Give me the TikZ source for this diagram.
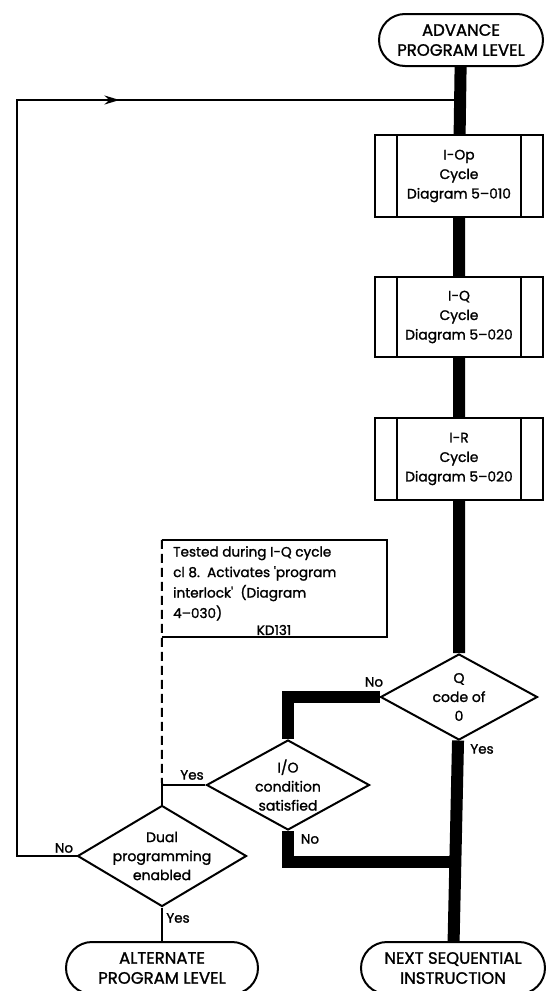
\documentclass[tikz,border=0pt]{standalone}
\usepackage{fontspec}
\setmainfont{Poppins}[FakeBold=1.4]
\usetikzlibrary{arrows.meta,shapes.geometric,decorations.markings,backgrounds}

\tikzset{
  base/.style={draw=black,line width=2pt,fill=white,align=center,inner sep=0pt},
  term/.style={base,rounded corners=26pt,minimum height=52pt,font=\fontsize{16.5}{20}\selectfont},
  cyclebox/.style={base,minimum width=168pt,minimum height=82pt,font=\fontsize{13.8}{19.5}\selectfont},
  decision/.style={diamond,draw=black,line width=2pt,fill=white,inner sep=0pt},
  dtext/.style={align=center,inner sep=0pt,font=\fontsize{14}{19}\selectfont},
  yn/.style={inner sep=0pt,font=\fontsize{13.5}{15}\selectfont},
  notetext/.style={align=left,inner sep=0pt,font=\fontsize{13.6}{20.5}\selectfont},
  line/.style={draw=black,line width=2pt},
  flow/.style={draw=black,line width=12pt},
  midarrow/.style={decoration={markings,mark=at position #1 with {\arrow{Stealth[length=15pt,width=9pt]}}},postaction={decorate}},
}

\begin{document}
\begin{tikzpicture}[x=1pt,y=-1pt]
  \useasboundingbox (0,0) rectangle (546,991);

  % terminals
  \node[term,minimum width=164pt] (adv) at (461,40) {ADVANCE\\PROGRAM LEVEL};
  \node[term,minimum width=192pt] (alt) at (162,968) {ALTERNATE\\PROGRAM LEVEL};
  \node[term,minimum width=184pt] (next) at (453,968) {NEXT SEQUENTIAL\\INSTRUCTION};

  % cycle boxes, double sides drawn after
  \node[cyclebox] (iop) at (459,176) {I-Op\\Cycle\\Diagram 5--010};
  \node[cyclebox,minimum height=80pt] (iq) at (459,317) {I-Q\\Cycle\\Diagram 5--020};
  \node[cyclebox] (ir) at (459,459) {I-R\\Cycle\\Diagram 5--020};
  \foreach \b in {iop,iq,ir} {
    \draw[line] ([xshift=23pt]\b.north west) -- ([xshift=23pt]\b.south west);
    \draw[line] ([xshift=-23pt]\b.north east) -- ([xshift=-23pt]\b.south east);
  }

  % decisions
  \node[decision,minimum width=157pt,minimum height=86pt] (q) at (459,697) {};
  \node[dtext] (qtxt) at (q) {Q\\code of\\0};
  \node[decision,minimum width=163pt,minimum height=90pt] (io) at (288,785) {};
  \node[dtext] (iotxt) at (io) {I/O\\condition\\satisfied};
  \node[decision,minimum width=169pt,minimum height=101pt] (dual) at (162,856) {};
  \node[dtext] (dualtxt) at (dual) {Dual\\programming\\enabled};

  % comment box
  \node[minimum width=225pt,minimum height=97pt,inner sep=0pt] (note) at (274.5,588.5) {};
  \node[notetext,anchor=north west] (notetxt) at (173,546) {Tested during I-Q cycle\\cl 8.\ \ Activates \textquotesingle program\\interlock\textquotesingle\ \ (Diagram\\4--030)};
  \node[notetext] (kd) at (274,630) {KD131};
  \draw[line] (note.north west) -- (note.north east) -- (note.south east) -- (note.south west);

  % branch labels
  \node[yn] (qno) at (374,682) {No};
  \node[yn] (qyes) at (482,749) {Yes};
  \node[yn] (ioyes) at (192,775) {Yes};
  \node[yn] (iono) at (310,839) {No};
  \node[yn] (dualno) at (64,848) {No};
  \node[yn] (dualyes) at (178,918) {Yes};

  \coordinate (merge) at (459,862);
  \coordinate (yesturn) at (162,785);
  \coordinate (loopt) at (17,100);
  \coordinate (loopin) at (459,100);

  \begin{pgfonlayer}{background}
    % main flow
    \draw[flow] (adv) -- (iop) -- (iq) -- (ir) -- (q) -- (next);
    \draw[flow] (q) -| (io);
    \draw[flow] (io) |- (merge);
    % thin connectors
    \draw[line] (io) -- (yesturn) -- (dual);
    \draw[line] (dual) -- (alt);
    \draw[line,midarrow=0.73] (dual.west) -| (loopt) -- (loopin);
    \draw[line,dashed,dash pattern=on 9pt off 5pt] (note.north west) -- (yesturn);
  \end{pgfonlayer}
\end{tikzpicture}
\end{document}
